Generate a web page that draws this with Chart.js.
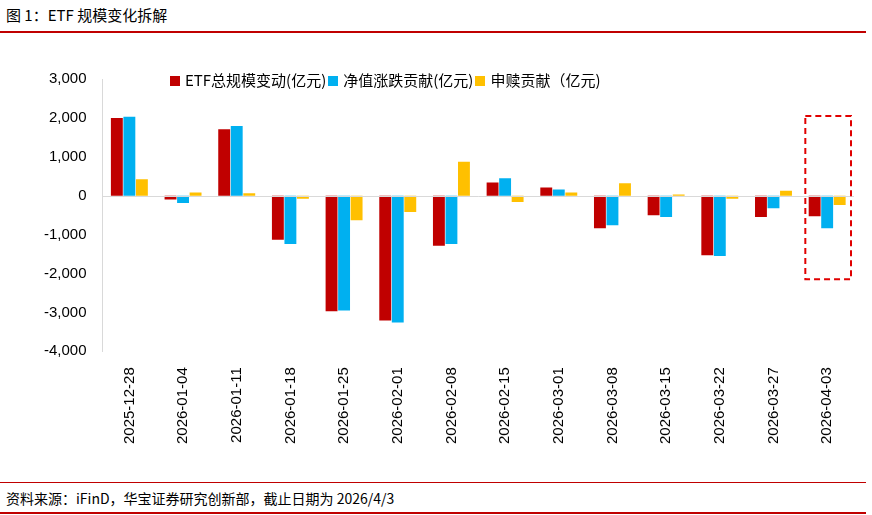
<!DOCTYPE html>
<html><head><meta charset="utf-8">
<script src="https://cdn.jsdelivr.net/npm/chart.js@4"></script>
<style>
body{margin:0;width:872px;height:515px;background:#fff;font-family:"Noto Sans CJK SC",sans-serif;overflow:hidden}
.title{position:absolute;left:6px;top:4px;font-size:15px;color:#000}
.line{position:absolute;left:0;width:866px;height:2px;background:#c00000}
.src{position:absolute;left:6px;top:488px;font-size:14px;color:#000}
#wrap{position:absolute;left:0;top:62px;width:866px;height:390px}
#legend{position:absolute;left:168px;top:69px;font-size:15px;color:#000;white-space:nowrap}
#legend span.b{display:inline-block;width:10px;height:10px;margin:0 5px 0 2px}
</style></head><body>
<div class="title">图 1：ETF 规模变化拆解</div>
<div class="line" style="top:31px"></div>
<div class="line" style="top:482px;height:1px"></div>
<div class="src">资料来源：iFinD，华宝证券研究创新部，截止日期为 2026/4/3</div>
<div class="line" style="top:512px"></div>
<div id="wrap"><canvas id="c"></canvas></div>
<div id="legend"></div>
<script>
const labels = ['2025-12-28','2026-01-04','2026-01-11','2026-01-18','2026-01-25','2026-02-01','2026-02-08','2026-02-15','2026-03-01','2026-03-08','2026-03-15','2026-03-22','2026-03-27','2026-04-03'];
const totalChange = [2000,-100,1710,-1130,-2970,-3210,-1290,340,210,-840,-500,-1530,-550,-530];
const navChange = [2030,-190,1790,-1240,-2950,-3260,-1240,450,160,-760,-550,-1550,-320,-840];
const flowChange = [420,80,60,-80,-630,-420,870,-160,80,320,30,-80,130,-240];
const yTicks = [3000,2000,1000,0,-1000,-2000,-3000,-4000];

const extras = {
  id: 'extras',
  afterDatasetsDraw(chart) {
    const {ctx, scales: {x, y}, chartArea} = chart;
    ctx.save();
    ctx.strokeStyle = '#d9d9d9'; ctx.lineWidth = 1;
    const y0 = Math.round(y.getPixelForValue(0)) + 0.5;
    ctx.beginPath(); ctx.moveTo(chartArea.left, y0); ctx.lineTo(chartArea.right, y0); ctx.stroke();
    const cx = x.getPixelForValue(labels.length - 1);
    const half = (x.getPixelForValue(1) - x.getPixelForValue(0)) / 2;
    ctx.strokeStyle = '#e00000'; ctx.lineWidth = 2; ctx.setLineDash([6, 4]);
    const top = y.getPixelForValue(2050), bot = y.getPixelForValue(-2150);
    ctx.strokeRect(cx - half + 5, top, 2 * half - 8, bot - top);
    ctx.restore();
  }
};

const chart = new Chart(document.getElementById('c'), {
  type: 'bar',
  data: {
    labels,
    datasets: [
      {label: 'ETF总规模变动(亿元)', data: totalChange, backgroundColor: '#c00000'},
      {label: '净值涨跌贡献(亿元)', data: navChange, backgroundColor: '#00b0f0'},
      {label: '申赎贡献（亿元)', data: flowChange, backgroundColor: '#ffc000'}
    ]
  },
  options: {
    responsive: true, maintainAspectRatio: false, animation: false,
    layout: {padding: {left: 36, right: 12, top: 4}},
    datasets: {bar: {categoryPercentage: 0.7, barPercentage: 0.95}},
    plugins: {legend: {display: false}, tooltip: {enabled: false}},
    scales: {
      y: {
        min: -4000, max: 3000,
        afterBuildTicks(s) { s.ticks = yTicks.map(v => ({value: v})); },
        grid: {display: false},
        border: {display: true, color: '#d9d9d9'},
        ticks: {color: '#000', padding: 8, font: {size: 15, family: 'Liberation Sans'}, callback: v => v.toLocaleString('en-US')}
      },
      x: {
        grid: {display: false},
        border: {display: false},
        ticks: {color: '#000', padding: 8, maxRotation: 90, minRotation: 90, font: {size: 15, family: 'Liberation Sans'}}
      }
    }
  },
  plugins: [extras]
});

document.getElementById('legend').innerHTML = chart.data.datasets
  .map(d => `<span class="b" style="background:${d.backgroundColor}"></span>${d.label}`).join('');
</script>
</body></html>
